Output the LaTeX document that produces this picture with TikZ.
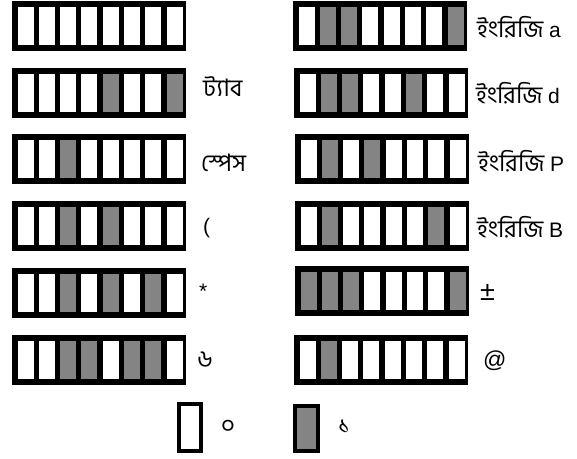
\documentclass[tikz,border=0pt]{standalone}
\usepackage{fontspec}
\setmainfont{Liberation Sans}
\newfontfamily\bnfont[Script=Bengali]{Hind Siliguri}
\definecolor{cellgray}{RGB}{132,132,132}
\colorlet{bitc0}{white}
\colorlet{bitc1}{cellgray}
\newcommand\bitbox[3]{%
  \fill[black] (#1,#2) rectangle ++(174,50);
  \foreach \b [count=\i from 0] in {#3} {
    \fill[bitc\b] ({#1+5.5+\i*21.3},{#2+6}) rectangle ++(16,38);
  }%
}
\newcommand\bn[1]{{\bnfont\fontsize{24}{24}\selectfont #1}}
\begin{document}
\begin{tikzpicture}[x=1pt,y=-1pt,
  lbl/.style={anchor=base west, inner sep=0pt, font=\fontsize{21}{21}\selectfont}]
\useasboundingbox (0,0) rectangle (577,458);
\fill[white] (0,0) rectangle (577,458);
% left column
\bitbox{12}{1}{0,0,0,0,0,0,0,0}
\bitbox{12}{68}{0,0,0,0,1,0,0,1}
\bitbox{12}{134}{0,0,1,0,0,0,0,0}
\bitbox{12}{201}{0,0,1,0,1,0,0,0}
\bitbox{12}{268}{0,0,1,0,1,0,1,0}
\bitbox{12}{335}{0,0,1,1,0,1,1,0}
% right column
\bitbox{293}{1}{0,1,1,0,0,0,0,1}
\bitbox{294}{68}{0,1,1,0,0,1,0,0}
\bitbox{295}{134}{0,1,0,1,0,0,0,0}
\bitbox{295}{201}{0,1,0,0,0,0,1,0}
\bitbox{295}{266}{1,1,1,0,0,0,0,1}
\bitbox{294}{335}{0,1,0,0,0,0,0,0}
% labels
\node[lbl] (tab) at (203,96) {\bn{ট্যাব}};
\node[lbl] (space) at (201,171) {\bn{স্পেস}};
\node[lbl] (paren) at (203,233) {(};
\node[lbl] (star) at (199,298) {*};
\node[lbl] (six) at (197,367) {\bn{৬}};
\node[lbl] (la) at (477,37) {\bn{ইংরিজি} a};
\node[lbl] (ld) at (476,103) {\bn{ইংরিজি} d};
\node[lbl] (lP) at (478,171) {\bn{ইংরিজি} P};
\node[lbl] (lB) at (477,237) {\bn{ইংরিজি} B};
\node[lbl, font=\fontsize{27}{27}\selectfont] (pm) at (480,300) {±};
\node[lbl, font=\fontsize{23}{23}\selectfont] (at) at (483,367) {@};
% legend
\fill[black] (177,402) rectangle (203,453);
\fill[white] (181,406) rectangle (199,449);
\fill[black] (293,404) rectangle (320,453);
\fill[cellgray] (297,408) rectangle (316,449);
\node[lbl] (zero) at (221,433) {\bn{০}};
\node[lbl] (one) at (338,433) {\bn{১}};
\end{tikzpicture}
\end{document}
